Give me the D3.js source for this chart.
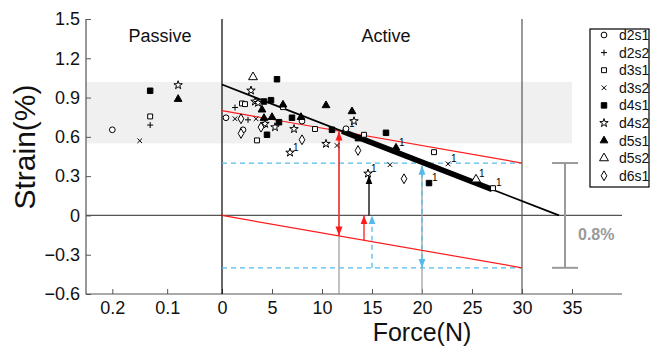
<!DOCTYPE html>
<html>
<head>
<meta charset="utf-8">
<script src="https://cdn.jsdelivr.net/npm/d3@7"></script>
<style>
  body { margin: 0; background: #fff; }
  svg text { font-family: "Liberation Sans", Arial, Helvetica, sans-serif; }
</style>
</head>
<body>
<svg id="chart"></svg>
<script>
// ---- data ----
const strainTicks = [-0.6, -0.3, 0, 0.3, 0.6, 0.9, 1.2, 1.5];
const forceTicks = [0, 5, 10, 15, 20, 25, 30, 35];
const passiveTicks = [0.2, 0.1];
const seriesNames = ['d2s1', 'd2s2', 'd3s1', 'd3s2', 'd4s1', 'd4s2', 'd5s1', 'd5s2', 'd6s1'];

// passive phase: [series, passive x, strain]
const passivePoints = [
  ['d2s1', 0.2, 0.654],
  ['d3s2', 0.15, 0.57],
  ['d3s1', 0.131, 0.756],
  ['d2s2', 0.131, 0.69],
  ['d4s1', 0.131, 0.952],
  ['d4s2', 0.08, 0.995],
  ['d5s1', 0.08, 0.888]
];

// active phase: [force, strain, superscript]
const d2s1 = [[0.4, 0.746], [2.1, 0.654], [4.1, 0.69], [8.0, 0.72], [12.4, 0.662, '1']];
const d2s2 = [[1.3, 0.824], [2.6, 0.73]];
const d3s1 = [[2.0, 0.855], [2.3, 0.85], [6.1, 0.827], [9.3, 0.66], [3.5, 0.573],
  [14.2, 0.616], [21.2, 0.483], [27.1, 0.208, '1']];
const d3s2 = [[1.3, 0.738], [3.4, 0.738], [11.5, 0.534], [16.8, 0.387], [22.6, 0.394, '1']];
const d4s1 = [[5.5, 1.04], [4.2, 0.87], [4.9, 0.88], [5.7, 0.712], [7.0, 0.746], [4.5, 0.616],
  [11.0, 0.654], [13.6, 0.59], [16.4, 0.631], [20.7, 0.247, '1']];
const d4s2 = [[2.9, 0.954], [3.3, 0.87], [3.6, 0.86], [4.3, 0.70], [5.3, 0.674], [7.2, 0.66],
  [10.4, 0.547], [13.2, 0.72], [6.8, 0.48, '1'], [14.6, 0.32, '1']];
const d5s1 = [[4.0, 0.807], [6.1, 0.845], [4.2, 0.743], [5.0, 0.75], [7.9, 0.75],
  [10.4, 0.84], [13.0, 0.794], [17.4, 0.516, '1']];
const d5s2 = [[3.1, 1.056], [25.4, 0.275, '1']];
const d6s1 = [[1.9, 0.738], [1.9, 0.626], [3.9, 0.674], [8.0, 0.578], [13.6, 0.496], [18.2, 0.28]];

// fitted lines [force, strain]
const fitLine = [[0, 1.0], [33.7, 0]];
const fitThick = [12, 27];
const upperBound = [[0, 0.8], [30, 0.4]];
const lowerBound = [[0, 0], [30, -0.4]];
const limitLevels = [0.4, -0.4];

// arrows [force, from strain, to strain]
const redDoubleArrows = [[11.7, -0.153, 0.64]];
const redArrows = [[14.2, -0.19, 0]];
const cyanArrows = [[15, -0.4, 0]];
const cyanDoubleArrows = [[20, -0.4, 0.38]];
const blackArrows = [[14.7, 0, 0.305]];
const guideForces = [[11.7, 0.64], [20, 0.38]];

const spanForce = 34.3;
const spanRange = [-0.4, 0.4];
const spanLabel = '0.8%';

// ---- layout ----
const W = 652, H = 346;
const plot = { left: 86, right: 622, top: 19, bottom: 294 };
const RED = '#ff1a1a', CYAN = '#55b9ea', GRAY = '#999', AXIS = '#555';

const svg = d3.select('#chart').attr('width', W).attr('height', H);

const y = d3.scaleLinear().domain([-0.6, 1.5]).range([plot.bottom, plot.top]);
const xA = d3.scaleLinear().domain([0, 40]).range([222, plot.right]);
const xP = d3.scaleLinear().domain([0.248, 0]).range([plot.left, 222]);

// custom stroke symbols (MATLAB style + and x)
const symPlus = {
  draw(ctx, size) {
    const r = Math.sqrt(size) / 2;
    ctx.moveTo(-r, 0); ctx.lineTo(r, 0);
    ctx.moveTo(0, -r); ctx.lineTo(0, r);
  }
};
const symTimes = {
  draw(ctx, size) {
    const r = Math.sqrt(size) / 2.6;
    ctx.moveTo(-r, -r); ctx.lineTo(r, r);
    ctx.moveTo(-r, r); ctx.lineTo(r, -r);
  }
};

const markerStyle = {
  d2s1: { type: d3.symbolCircle, size: 26, fill: '#fff' },
  d2s2: { type: symPlus, size: 36, fill: 'none' },
  d3s1: { type: d3.symbolSquare, size: 24, fill: '#fff' },
  d3s2: { type: symTimes, size: 36, fill: 'none' },
  d4s1: { type: d3.symbolSquare, size: 30, fill: '#000' },
  d4s2: { type: d3.symbolStar, size: 22, fill: '#fff' },
  d5s1: { type: d3.symbolTriangle, size: 26, fill: '#000' },
  d5s2: { type: d3.symbolTriangle, size: 34, fill: '#fff' },
  d6s1: { type: d3.symbolDiamond, size: 28, fill: '#fff' }
};

const activeSeries = { d2s1, d2s2, d3s1, d3s2, d4s1, d4s2, d5s1, d5s2, d6s1 };

// shaded band
svg.append('rect')
  .attr('x', plot.left)
  .attr('y', y(1.02))
  .attr('width', xA(35) - plot.left)
  .attr('height', y(0.55) - y(1.02))
  .attr('fill', '#f0f0f0');

// arrow markers
const defs = svg.append('defs');
[['red', RED], ['cyan', CYAN], ['black', '#000']].forEach(([id, c]) => {
  defs.append('marker')
    .attr('id', 'arrow-' + id)
    .attr('viewBox', '0 -4 9 8')
    .attr('refX', 9)
    .attr('refY', 0)
    .attr('markerUnits', 'userSpaceOnUse')
    .attr('markerWidth', 9)
    .attr('markerHeight', 8)
    .attr('orient', 'auto-start-reverse')
    .append('path')
    .attr('d', 'M0,-3.5L9,0L0,3.5Z')
    .attr('fill', c);
});

// axes
const fmt = d => d3.format('.1f')(d).replace('-', '\u2212').replace(/^0\.0$/, '0');
const gx = svg.append('g').attr('transform', 'translate(0,' + plot.bottom + ')');
gx.append('g')
  .call(d3.axisBottom(xA).tickValues(forceTicks).tickSizeInner(-5).tickSizeOuter(0).tickPadding(7))
  .call(g => g.select('.domain').remove());
gx.append('g')
  .call(d3.axisBottom(xP).tickValues(passiveTicks).tickSizeInner(-5).tickSizeOuter(0).tickPadding(7)
    .tickFormat(fmt))
  .call(g => g.select('.domain').remove());
svg.append('g')
  .attr('transform', 'translate(' + plot.left + ',0)')
  .call(d3.axisLeft(y).tickValues(strainTicks).tickSizeInner(-5).tickSizeOuter(0).tickPadding(6)
    .tickFormat(fmt))
  .call(g => g.select('.domain').remove());

svg.selectAll('.tick line').attr('stroke', AXIS);
svg.selectAll('.tick text').attr('font-size', '18px').attr('fill', '#111')
  .attr('font-family', '"Liberation Sans", Arial, sans-serif');

svg.append('path')
  .attr('d', `M${plot.left},${plot.top}V${plot.bottom}H${plot.right}`)
  .attr('fill', 'none').attr('stroke', AXIS).attr('stroke-width', 1.2);

// zero line and phase separators
svg.append('line')
  .attr('x1', plot.left).attr('x2', plot.right)
  .attr('y1', y(0)).attr('y2', y(0))
  .attr('stroke', AXIS).attr('stroke-width', 1.2);
svg.append('line')
  .attr('x1', xA(0)).attr('x2', xA(0)).attr('y1', y(1.5)).attr('y2', y(-0.6))
  .attr('stroke', '#000').attr('stroke-width', 1.2);
svg.append('line')
  .attr('x1', xA(30)).attr('x2', xA(30)).attr('y1', y(1.5)).attr('y2', y(-0.6))
  .attr('stroke', AXIS).attr('stroke-width', 1.2);

// gray guides
svg.selectAll('.guide').data(guideForces).enter().append('line')
  .attr('x1', d => xA(d[0])).attr('x2', d => xA(d[0]))
  .attr('y1', y(-0.6)).attr('y2', d => y(d[1]))
  .attr('stroke', GRAY).attr('stroke-width', 1.2);

const line = d3.line().x(d => xA(d[0])).y(d => y(d[1]));

// limit levels (dashed cyan)
svg.selectAll('.level').data(limitLevels).enter().append('line')
  .attr('x1', xA(0)).attr('x2', xA(30))
  .attr('y1', d => y(d)).attr('y2', d => y(d))
  .attr('stroke', CYAN).attr('stroke-width', 1.3).attr('stroke-dasharray', '5,4');

// red bounds
[upperBound, lowerBound].forEach(b => {
  svg.append('path').attr('d', line(b)).attr('fill', 'none')
    .attr('stroke', RED).attr('stroke-width', 1.2);
});

// fitted black line and thick part
svg.append('path').attr('d', line(fitLine)).attr('fill', 'none')
  .attr('stroke', '#000').attr('stroke-width', 1.8);
const fitAt = d3.scaleLinear().domain(fitLine.map(d => d[0])).range(fitLine.map(d => d[1]));
svg.append('path').attr('d', line(fitThick.map(f => [f, fitAt(f)]))).attr('fill', 'none')
  .attr('stroke', '#000').attr('stroke-width', 5.5);

// arrows
function drawArrows(data, color, id, dashed, both) {
  svg.append('g').selectAll('line').data(data).enter().append('line')
    .attr('x1', d => xA(d[0])).attr('x2', d => xA(d[0]))
    .attr('y1', d => y(d[1])).attr('y2', d => y(d[2]))
    .attr('stroke', color).attr('stroke-width', 1.3)
    .attr('stroke-dasharray', dashed ? '5,4' : null)
    .attr('marker-end', 'url(#arrow-' + id + ')')
    .attr('marker-start', both ? 'url(#arrow-' + id + ')' : null);
}
drawArrows(redDoubleArrows, RED, 'red', false, true);
drawArrows(redArrows, RED, 'red', false, false);
drawArrows(cyanArrows, CYAN, 'cyan', true, false);
drawArrows(cyanDoubleArrows, CYAN, 'cyan', true, true);
drawArrows(blackArrows, '#000', 'black', false, false);

// span error bar
const span = svg.append('g').attr('stroke', GRAY).attr('stroke-width', 2);
span.append('line')
  .attr('x1', xA(spanForce)).attr('x2', xA(spanForce))
  .attr('y1', y(spanRange[0])).attr('y2', y(spanRange[1]));
spanRange.forEach(v => {
  span.append('line')
    .attr('x1', xA(spanForce) - 13).attr('x2', xA(spanForce) + 13)
    .attr('y1', y(v)).attr('y2', y(v));
});
svg.append('text')
  .attr('x', xA(spanForce) + 13).attr('y', y(0) + 25)
  .attr('font-size', '16px').attr('font-weight', 'bold').attr('fill', GRAY)
  .text(spanLabel);

// scatter points
const sym = d3.symbol();
function drawMarker(g, name) {
  const s = markerStyle[name];
  g.append('path')
    .attr('d', sym.type(s.type).size(s.size)())
    .attr('fill', s.fill)
    .attr('stroke', '#000')
    .attr('stroke-width', 1);
}

const pts = svg.append('g').attr('class', 'points');
passivePoints.forEach(([name, px, s]) => {
  const g = pts.append('g').attr('transform', `translate(${xP(px)},${y(s)})`);
  drawMarker(g, name);
});
seriesNames.forEach(name => {
  activeSeries[name].forEach(d => {
    const g = pts.append('g').attr('transform', `translate(${xA(d[0])},${y(d[1])})`);
    drawMarker(g, name);
    if (d[2]) {
      g.append('text').attr('x', 3).attr('y', -2)
        .attr('font-size', '10px').attr('fill', '#000').text(d[2]);
    }
  });
});

// phase titles
svg.append('text').attr('x', 160).attr('y', 42).attr('text-anchor', 'middle')
  .attr('font-size', '18px').attr('fill', '#111').text('Passive');
svg.append('text').attr('x', 386).attr('y', 42).attr('text-anchor', 'middle')
  .attr('font-size', '18px').attr('fill', '#111').text('Active');

// axis titles
svg.append('text')
  .attr('transform', 'translate(35,147) rotate(-90)')
  .attr('text-anchor', 'middle')
  .attr('font-size', '30px').attr('fill', '#111')
  .text('Strain(%)');
svg.append('text')
  .attr('x', 422).attr('y', 341).attr('text-anchor', 'middle')
  .attr('font-size', '25px').attr('fill', '#111')
  .text('Force(N)');

// legend
const legend = svg.append('g').attr('transform', 'translate(590,29)');
legend.append('rect').attr('width', 59).attr('height', 158)
  .attr('fill', '#fff').attr('stroke', '#000').attr('stroke-width', 1.2);
seriesNames.forEach((name, i) => {
  const row = legend.append('g').attr('transform', `translate(0,${6 + i * 17.6})`);
  const m = row.append('g').attr('transform', 'translate(14,0)');
  drawMarker(m, name);
  row.append('text').attr('x', 29).attr('y', 5)
    .attr('font-size', '14px').attr('fill', '#111').text(name);
});
</script>
</body>
</html>
